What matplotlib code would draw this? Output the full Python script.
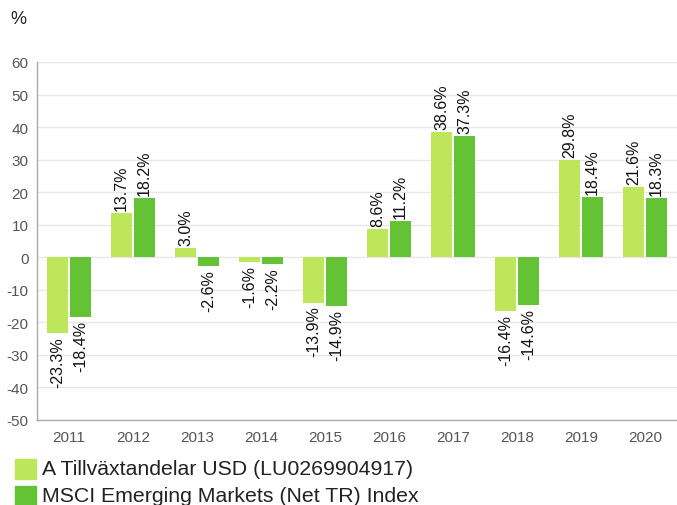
import matplotlib.pyplot as plt
import numpy as np

LIGHT = "#BDE65B"
DARK = "#63C335"
GREY_TXT = "#555555"
GREY_AX = "#AAAAAA"
GRID = "#E8E8E8"

years = ["2011", "2012", "2013", "2014", "2015", "2016", "2017", "2018", "2019", "2020"]
fund = [-23.3, 13.7, 3.0, -1.6, -13.9, 8.6, 38.6, -16.4, 29.8, 21.6]
index = [-18.4, 18.2, -2.6, -2.2, -14.9, 11.2, 37.3, -14.6, 18.4, 18.3]
labels = ["A Tillväxtandelar USD (LU0269904917)", "MSCI Emerging Markets (Net TR) Index"]

plt.rcParams["font.family"] = ["Liberation Sans", "DejaVu Sans"]
plt.rcParams["axes.unicode_minus"] = False

fig = plt.figure(figsize=(6.77, 5.06), dpi=100)
ax = fig.add_axes([37 / 677, 1 - 421 / 506, 640 / 677, (421 - 63) / 506])

x = np.arange(len(years))
w = 0.33
for vals, off, col in [(fund, -0.18, LIGHT), (index, 0.18, DARK)]:
    ax.bar(x + off, vals, width=w, color=col, edgecolor="none", zorder=2)
    for xi, v in zip(x + off, vals):
        pad = 0.9 if v >= 0 else -0.9
        ax.text(xi, v + pad, f"{v:.1f}%", rotation=90, ha="center",
                va="bottom" if v >= 0 else "top", fontsize=11.5, color="#111111")

ax.set_xlim(-0.5, len(years) - 0.5)
ax.set_ylim(-50, 60)
ax.set_yticks(range(-50, 61, 10))
ax.set_xticks(x)
ax.set_xticklabels(years)
ax.tick_params(length=0, labelsize=11, labelcolor=GREY_TXT, pad=7)
ax.tick_params(axis="y", pad=6)
ax.grid(axis="y", color=GRID, linewidth=1, zorder=0)
for s in ["top", "right"]:
    ax.spines[s].set_visible(False)
for s in ["left", "bottom"]:
    ax.spines[s].set_color(GREY_AX)
    ax.spines[s].set_linewidth(1)

fig.text(10 / 677, 1 - 19 / 506, "%", fontsize=13, color="#222222", va="center", ha="left")

for i, (lab, col) in enumerate(zip(labels, [LIGHT, DARK])):
    yc = 1 - (470 + i * 27) / 506
    fig.patches.append(plt.Rectangle((15 / 677, yc - 10 / 506), 21 / 677, 20 / 506,
                                     transform=fig.transFigure, color=col))
    fig.text(42 / 677, yc, lab, fontsize=15.3, color="#222222", va="center", ha="left")

fig.savefig("out.png", dpi=100, facecolor="white")
